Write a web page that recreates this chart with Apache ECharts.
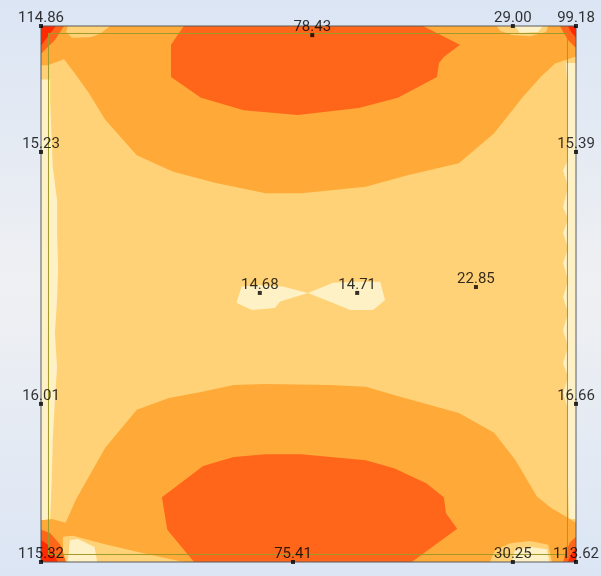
<!DOCTYPE html>
<html>
<head>
<meta charset="utf-8">
<script src="https://cdn.jsdelivr.net/npm/echarts@6/dist/echarts.min.js"></script>
<style>
html,body{margin:0;padding:0;width:601px;height:576px;overflow:hidden;
background:linear-gradient(to bottom,#dbe5f4 0%,#e9edf3 35%,#eff0f2 50%,#e9edf3 65%,#dbe5f4 100%);}
#chart{width:601px;height:576px;}
</style>
</head>
<body>
<div id="chart"></div>
<script>
// Slab extent (m)
const slabX = [0, 10];
const slabY = [0, 10];
const innerFrame = [[0.14,0.14],[9.84,0.14],[9.84,9.86],[0.14,9.86]];
const outerFrame = [[0,0],[10,0],[10,10],[0,10]];

// Node results
const nodeX = [0, 5.07, 8.82, 10, 0, 10, 4.09, 5.91, 8.13, 0, 10, 0, 4.71, 8.82, 10];
const nodeY = [10, 9.83, 10, 10, 7.65, 7.65, 5.02, 5.02, 5.13, 2.95, 2.95, 0, 0, 0, 0];
const nodeValues = ['114.86','78.43','29.00','99.18','15.23','15.39','14.68','14.71','22.85','16.01','16.66','115.32','75.41','30.25','113.62'];

// Contour band regions (slab coordinates, m)
const bandLightBase = [[0,0],[10,0],[10,10],[0,10]];
const bandPaleLeft = [[0,9.0],[0.17,9.0],[0.17,8.62],[0.22,7.37],[0.30,6.75],[0.30,6.14],[0.32,5.50],[0.30,4.89],[0.26,4.27],[0.30,3.64],[0.26,3.02],[0.22,2.30],[0.20,1.50],[0.17,0.78],[0,0.78]];
const bandPaleRight = [[10,9.31],[9.81,9.31],[9.85,8.62],[9.85,7.50],[9.76,7.31],[9.85,7.00],[9.76,6.62],[9.85,6.40],[9.76,6.14],[9.85,5.85],[9.76,5.58],[9.85,5.25],[9.76,4.94],[9.85,4.65],[9.76,4.33],[9.85,4.02],[9.76,3.71],[9.85,3.45],[9.76,3.15],[9.85,2.85],[9.85,1.5],[9.87,0.8],[10,0.8]];
const bandPaleCentre = [[3.66,4.86],[3.75,5.14],[4.06,5.17],[4.52,5.14],[4.99,5.02],[5.46,5.21],[5.90,5.23],[6.34,5.23],[6.43,4.89],[6.21,4.70],[5.78,4.70],[5.46,4.83],[4.99,5.02],[4.47,4.86],[4.37,4.74],[3.94,4.70],[3.66,4.83]];
const bandOrangeTop = [[0,10],[0,9.27],[0.13,9.27],[0.43,9.38],[0.63,9.12],[0.90,8.74],[1.20,8.25],[1.79,7.59],[2.47,7.28],[3.27,7.07],[4.20,6.88],[4.87,6.88],[6.07,7.00],[6.87,7.22],[7.81,7.44],[8.47,8.00],[9.01,8.68],[9.34,9.05],[9.61,9.30],[10,9.43],[10,10]];
const bandOrangeBottom = [[0,0],[0,0.78],[0.21,0.80],[0.46,0.73],[0.65,1.16],[1.20,2.13],[1.79,2.84],[2.39,3.06],[2.99,3.17],[3.60,3.30],[4.20,3.32],[5.40,3.30],[6.07,3.27],[6.73,3.08],[7.81,2.78],[8.47,2.41],[8.87,1.90],[9.27,1.22],[9.53,1.01],[9.81,0.85],[10,0.73],[10,0]];
const bandLightTL = [[0.50,10],[1.29,10],[1.10,9.85],[0.92,9.79],[0.58,9.78],[0.47,9.89]];
const bandLightTR = [[8.52,10],[9.48,10],[9.44,9.89],[9.14,9.81],[8.80,9.83],[8.58,9.91]];
const bandPaleTR = [[8.86,10],[9.38,10],[9.29,9.89],[8.95,9.87]];
const bandLightBL = [[0.41,0.47],[0.60,0.49],[1.12,0.35],[1.79,0.19],[2.34,0.07],[2.67,0],[0.41,0]];
const bandPaleBL = [[0.54,0.41],[0.69,0.43],[1.00,0.28],[1.05,0],[0.50,0]];
const bandLightBR = [[8.39,0],[8.49,0.22],[8.77,0.35],[9.14,0.39],[9.48,0.32],[9.55,0]];
const bandPaleBR = [[8.80,0],[8.86,0.22],[9.14,0.28],[9.46,0.24],[9.50,0]];
const bandDarkTop = [[2.67,10],[2.43,9.65],[2.43,9.05],[2.99,8.66],[3.79,8.43],[4.80,8.34],[5.94,8.47],[6.67,8.66],[7.20,8.94],[7.40,9.05],[7.44,9.31],[7.53,9.42],[7.83,9.65],[7.14,10]];
const bandDarkBottom = [[2.86,0],[2.36,0.60],[2.26,1.21],[3.03,1.79],[3.60,1.96],[4.20,2.01],[4.86,2.01],[6.07,1.90],[6.60,1.75],[7.20,1.47],[7.53,1.21],[7.57,0.91],[7.78,0.62],[6.93,0]];
const bandDarkTL = [[0,10],[0.43,10],[0.26,9.74],[0,9.48]];
const bandDarkTR = [[9.70,10],[10,10],[10,9.59],[9.85,9.74],[9.76,9.89]];
const bandDarkBL = [[0,0.60],[0.17,0.54],[0.36,0.32],[0.47,0],[0,0]];
const bandDarkBR = [[10,0.47],[9.89,0.37],[9.81,0.19],[9.76,0],[10,0]];
const bandRedTL = [[0,10],[0.28,10],[0.13,9.81],[0,9.63]];
const bandRedTR = [[9.85,10],[10,10],[10,9.78],[9.91,9.89]];
const bandRedBL = [[0,0.41],[0.13,0.32],[0.32,0],[0,0]];
const bandRedBR = [[10,0.26],[9.91,0.15],[9.85,0],[10,0]];

const C_PALE = '#fff1c6', C_LIGHT = '#ffd277', C_ORANGE = '#ffaa38', C_DARK = '#ff661a', C_RED = '#ff2a00';

function area(points, fill) {
  return {
    type: 'custom', silent: true, animation: false, clip: true,
    data: points,
    renderItem: function (params, api) {
      if (params.dataIndex !== 0) return null;
      return { type: 'polygon', shape: { points: points.map(p => api.coord(p)) }, style: { fill: fill } };
    }
  };
}
function outline(points, stroke) {
  return {
    type: 'custom', silent: true, animation: false, clip: false,
    data: points,
    renderItem: function (params, api) {
      if (params.dataIndex !== 0) return null;
      return { type: 'polygon', shape: { points: points.map(p => api.coord(p)) }, style: { fill: 'none', stroke: stroke, lineWidth: 1 } };
    }
  };
}

const series = [
  area(bandLightBase, C_LIGHT),
  area(bandPaleLeft, C_PALE),
  area(bandPaleRight, C_PALE),
  area(bandPaleCentre, C_PALE),
  area(bandOrangeTop, C_ORANGE),
  area(bandOrangeBottom, C_ORANGE),
  area(bandLightTL, C_LIGHT),
  area(bandLightTR, C_LIGHT),
  area(bandPaleTR, C_PALE),
  area(bandLightBL, C_LIGHT),
  area(bandPaleBL, C_PALE),
  area(bandLightBR, C_LIGHT),
  area(bandPaleBR, C_PALE),
  area(bandDarkTop, C_DARK),
  area(bandDarkBottom, C_DARK),
  area(bandDarkTL, C_DARK),
  area(bandDarkTR, C_DARK),
  area(bandDarkBL, C_DARK),
  area(bandDarkBR, C_DARK),
  area(bandRedTL, C_RED),
  area(bandRedTR, C_RED),
  area(bandRedBL, C_RED),
  area(bandRedBR, C_RED),
  outline(innerFrame, '#a09a2a'),
  outline(outerFrame, '#5a5a5a'),
  {
    type: 'scatter', silent: true, animation: false, clip: false,
    symbol: 'rect', symbolSize: 4,
    itemStyle: { color: '#000' },
    data: nodeValues.map((v, i) => [nodeX[i], nodeY[i], v]),
    label: {
      show: true, position: 'top', distance: -2,
      formatter: p => p.value[2],
      fontFamily: 'Roboto', fontSize: 15, color: '#000'
    }
  }
];

const chart = echarts.init(document.getElementById('chart'), null, { renderer: 'canvas' });
chart.setOption({
  backgroundColor: 'transparent',
  animation: false,
  grid: { left: 41, right: 25, top: 26, bottom: 14, containLabel: false },
  xAxis: { type: 'value', min: slabX[0], max: slabX[1], show: false },
  yAxis: { type: 'value', min: slabY[0], max: slabY[1], show: false },
  series: series
});
</script>
</body>
</html>
